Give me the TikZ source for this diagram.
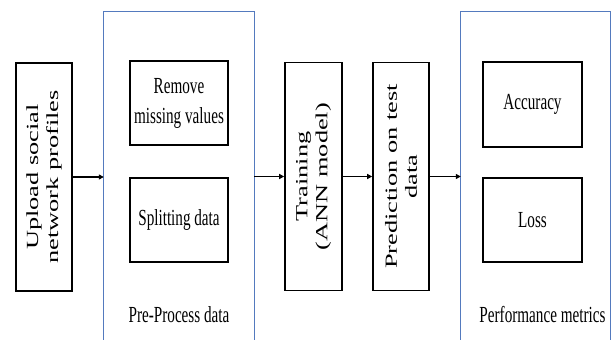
\documentclass[tikz,border=0pt]{standalone}
\usepackage{fontspec}
\setmainfont{Liberation Serif}
\newfontfamily\narrowserif[FakeStretch=0.66]{Liberation Serif}
\newfontfamily\wideserif[FakeStretch=1.55]{Liberation Serif}
\usetikzlibrary{arrows.meta}
\definecolor{boxblue}{RGB}{84,122,190}
\begin{document}
\begin{tikzpicture}[x=1pt,y=1pt,
  hbox/.style={draw=black,line width=1.6pt,minimum width=98pt,minimum height=84pt,inner sep=0pt,align=center,font=\narrowserif\fontsize{23}{30}\selectfont},
  vbox/.style={draw=black,line width=1.6pt,minimum width=228pt,minimum height=56pt,inner sep=0pt,align=center,rotate=90,font=\wideserif\fontsize{17}{20}\selectfont},
  container/.style={minimum width=150pt,minimum height=328pt,inner sep=0pt},
  lbl/.style={inner sep=0pt,font=\narrowserif\fontsize{23}{30}\selectfont},
  blueline/.style={draw=boxblue,line width=1.3pt},
  flow/.style={draw=black,line width=1.4pt,-{Triangle[length=5pt,width=5pt]}}]
\useasboundingbox (0,0) rectangle (611,340);
% nodes
\node[vbox] (up) at (44,163) {Upload social\\network profiles};
\node[container] (pre) at (179,164) {};
\node[hbox] (rm) at (179,237) {Remove\\missing values};
\node[hbox] (sp) at (179,120) {Splitting data};
\node[lbl] (prelbl) at (179,25) {Pre-Process data};
\node[vbox,minimum height=57pt] (tr) at (313.5,163.5) {Training\\(ANN model)};
\node[vbox] (pr) at (401,163.5) {Prediction on test\\data};
\node[container,minimum width=149pt] (perf) at (535.5,164) {};
\node[hbox,minimum width=99pt,minimum height=85pt] (acc) at (532.5,235.5) {Accuracy};
\node[hbox,minimum width=99pt] (loss) at (532.5,120) {Loss};
\node[lbl] (perflbl) at (542.5,25) {Performance metrics};
% containers (open at the bottom)
\draw[blueline] (pre.south west) -- (pre.north west) -- (pre.north east) -- (pre.south east);
\draw[blueline] (perf.south west) -- (perf.north west) -- (perf.north east) -- (perf.south east);
% connectors
\draw[flow] (up.south) -- (up.south -| pre.west);
\draw[flow] (pre.east |- tr.north) -- (tr.north);
\draw[flow] (tr.south) -- (pr.north);
\draw[flow] (pr.south) -- (pr.south -| perf.west);
\end{tikzpicture}
\end{document}
